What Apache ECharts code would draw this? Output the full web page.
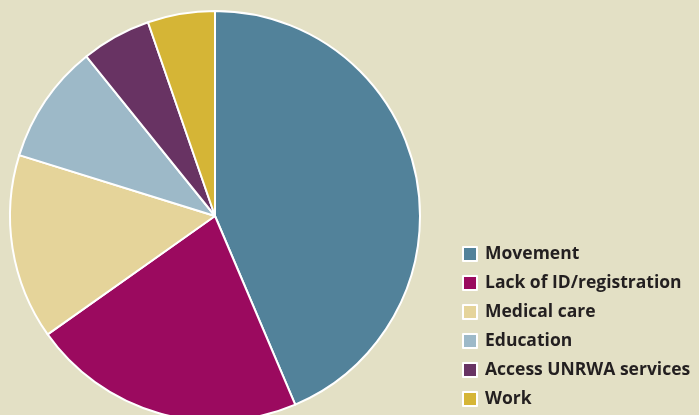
<!DOCTYPE html>
<html><head><meta charset="utf-8">
<script src="https://cdn.jsdelivr.net/npm/echarts@6/dist/echarts.min.js"></script>
<style>html,body{margin:0;padding:0;background:#e3e0c5;}#c{width:699px;height:415px;}</style>
</head><body><div id="c"></div>
<script>
const categories = ["Movement", "Lack of ID/registration", "Medical care", "Education", "Access UNRWA services", "Work"];
const values = [43.6, 21.6, 14.6, 9.4, 5.5, 5.3];
const colors = ["#52829a", "#9b0a5f", "#e5d49a", "#9db9c8", "#683363", "#d5b536"];

const chart = echarts.init(document.getElementById('c'), null, {renderer: 'canvas'});
chart.setOption({
  backgroundColor: '#e3e0c5',
  animation: false,
  legend: {
    orient: 'vertical',
    left: 462,
    top: 245,
    height: 200,
    padding: 0,
    itemWidth: 14,
    itemHeight: 14,
    itemGap: 11,
    icon: 'rect',
    selectedMode: false,
    textStyle: {
      fontFamily: 'Open Sans',
      fontWeight: 'bold',
      fontSize: 17.5,
      lineHeight: 18,
      color: '#231f20',
      padding: [0, 0, 0, 3]
    },
    data: categories
  },
  series: [{
    type: 'pie',
    center: [215, 216],
    radius: [0, 205],
    startAngle: 90,
    clockwise: true,
    label: {show: false},
    labelLine: {show: false},
    emphasis: {disabled: true},
    itemStyle: {borderColor: '#ffffff', borderWidth: 2},
    data: categories.map((n, i) => ({name: n, value: values[i], itemStyle: {color: colors[i]}}))
  }]
});
</script></body></html>
